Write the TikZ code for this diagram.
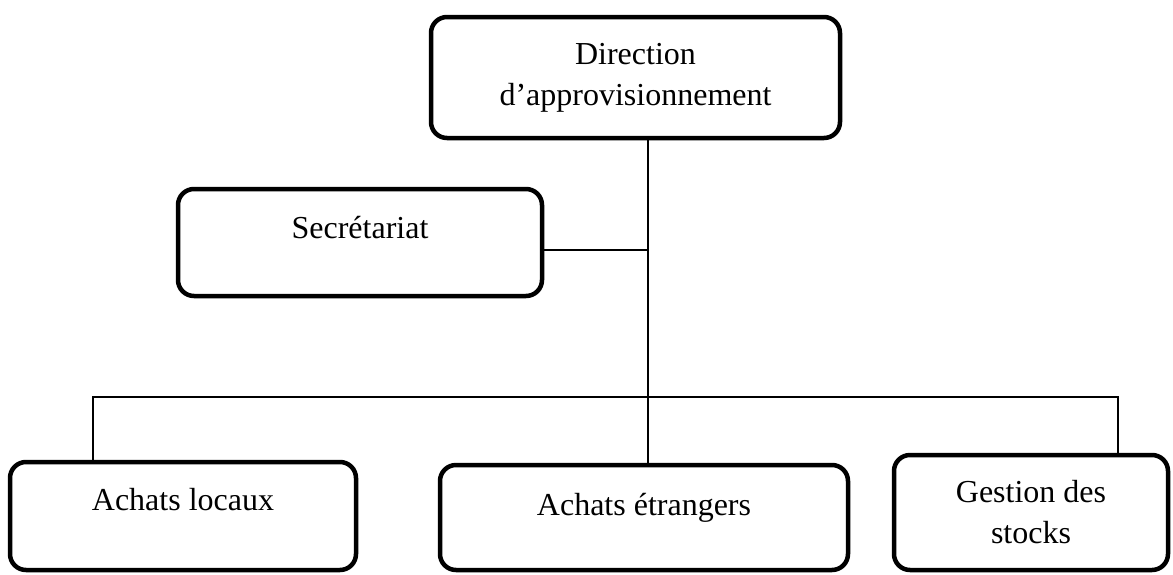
\documentclass[tikz,border=0pt]{standalone}
\usepackage{fontspec}
\setmainfont{Liberation Serif}
\usepackage{tikz}
\usetikzlibrary{positioning}
\tikzset{  dept/.style={draw,rounded corners=8pt,line width=2.25pt,align=center,inner sep=0pt,font=\fontsize{16}{20.5}\selectfont},
  link/.style={line width=0.7pt} }

\begin{document}
\begin{tikzpicture}[x=0.5pt,y=-0.5pt]
   \useasboundingbox (0,0) rectangle (1173,574);
   \node[dept,minimum width=204.5pt,minimum height=60.5pt] (dir) at (635.5,77.5) {Direction\\d’approvisionnement};
   \node[dept,minimum width=182pt,minimum height=53.5pt,text height=11pt,text depth=15.5pt] (sec) at (360,242.5) {Secrétariat};
   \node[dept,minimum width=173pt,minimum height=54pt,text height=11pt,text depth=17pt] (loc) at (183,516) {Achats locaux};
   \node[dept,minimum width=204pt,minimum height=52.5pt,text height=11pt,text depth=13.5pt] (etr) at (644,517.5) {Achats étrangers};
   \node[dept,minimum width=137pt,minimum height=57.5pt] (stk) at (1031,512.5) {Gestion des\\stocks};
   \coordinate (trunk) at (648,397);
   \coordinate (sj) at (648,250);
   \coordinate (bl) at (93,397);
   \coordinate (br) at (1118,397);
   \draw[link] (dir.south -| trunk) -- (etr.north -| trunk);
   \draw[link] (sj) -- (sj -| sec.east);
   \draw[link] (bl |- loc.north) -- (bl) -- (br) -- (br |- stk.north);
  \end{tikzpicture}
\end{document}
